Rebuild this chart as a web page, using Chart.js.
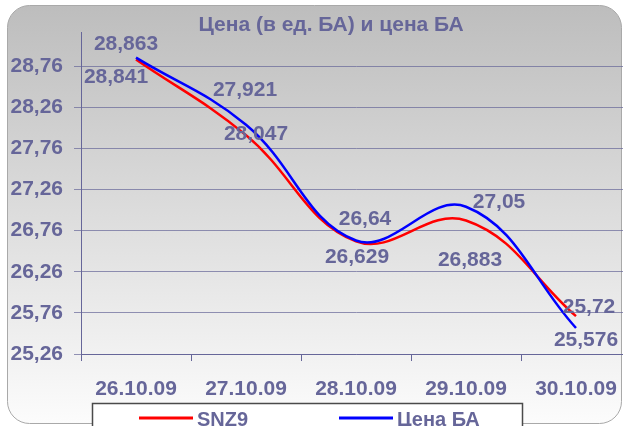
<!DOCTYPE html>
<html>
<head>
<meta charset="utf-8">
<script src="https://cdn.jsdelivr.net/npm/chart.js@4.4.1/dist/chart.umd.min.js"></script>
<style>
  html, body { margin: 0; padding: 0; overflow: hidden; background: #fff; width: 623px; height: 426px; }
  canvas { display: block; }
</style>
</head>
<body>
<canvas id="chart" width="640" height="426"></canvas>
<script>
const dates = ['26.10.09', '27.10.09', '28.10.09', '29.10.09', '30.10.09'];
const snz9 = [28.841, 27.921, 26.629, 26.883, 25.72];
const priceBA = [28.863, 28.047, 26.64, 27.05, 25.576];
const yTicks = [25.26, 25.76, 26.26, 26.76, 27.26, 27.76, 28.26, 28.76];
const chartTitle = 'Цена (в ед. БА) и цена БА';

const INK = '#666699';
const FONT = '"Liberation Sans", Arial, Helvetica, sans-serif';
const fmt = v => String(v).replace('.', ',');

// where each value label sits relative to its point (dx, dy)
const labelOffsets = [
  [[-20, 18], [-1, -45], [1, 16], [4, 40], [13, -9]],
  [[-10, -13], [10, 9], [9, -21], [33, -5], [10, 12]],
];

function roundedRect(ctx, x, y, w, h, r) {
  ctx.beginPath();
  ctx.moveTo(x + r, y);
  ctx.lineTo(x + w - r, y);
  ctx.arcTo(x + w, y, x + w, y + r, r);
  ctx.lineTo(x + w, y + h - r);
  ctx.arcTo(x + w, y + h, x + w - r, y + h, r);
  ctx.lineTo(x + r, y + h);
  ctx.arcTo(x, y + h, x, y + h - r, r);
  ctx.lineTo(x, y + r);
  ctx.arcTo(x, y, x + r, y, r);
  ctx.closePath();
}

const backdrop = {
  id: 'backdrop',
  beforeDraw(chart) {
    const ctx = chart.ctx;
    ctx.save();
    ctx.fillStyle = '#fff';
    ctx.fillRect(0, 0, chart.width, chart.height);
    const g = ctx.createLinearGradient(0, 5, 0, 424);
    g.addColorStop(0, '#bdbdbd');
    g.addColorStop(1, '#fcfcfc');
    roundedRect(ctx, 7.5, 5.5, 614, 418, 22);
    ctx.fillStyle = g;
    ctx.fill();
    ctx.strokeStyle = '#a9a9a9';
    ctx.lineWidth = 1;
    ctx.stroke();

    ctx.fillStyle = INK;
    ctx.font = `bold 21px ${FONT}`;
    ctx.textAlign = 'center';
    ctx.textBaseline = 'middle';
    ctx.fillText(chartTitle, 331, 25);
    ctx.restore();
  }
};

const valueLabels = {
  id: 'valueLabels',
  afterDatasetsDraw(chart) {
    const ctx = chart.ctx;
    ctx.save();
    ctx.fillStyle = INK;
    ctx.font = `bold 21px ${FONT}`;
    ctx.textAlign = 'center';
    ctx.textBaseline = 'middle';
    chart.data.datasets.forEach((ds, i) => {
      const meta = chart.getDatasetMeta(i);
      meta.data.forEach((pt, j) => {
        const [dx, dy] = labelOffsets[i][j];
        ctx.fillText(fmt(ds.data[j]), pt.x + dx, pt.y + dy);
      });
    });
    ctx.restore();
  }
};

const legendBox = {
  id: 'legendBox',
  afterDraw(chart) {
    const ctx = chart.ctx;
    ctx.save();
    ctx.fillStyle = '#fff';
    ctx.fillRect(92, 403, 430, 40);
    ctx.strokeStyle = '#4a4a4a';
    ctx.lineWidth = 1.5;
    ctx.strokeRect(92.5, 403.5, 430, 40);
    ctx.font = `bold 20px ${FONT}`;
    ctx.textBaseline = 'middle';
    ctx.textAlign = 'left';
    chart.data.datasets.forEach((ds, i) => {
      const x = 139 + i * 200;
      ctx.strokeStyle = ds.borderColor;
      ctx.lineWidth = 3;
      ctx.beginPath();
      ctx.moveTo(x, 418);
      ctx.lineTo(x + 54, 418);
      ctx.stroke();
      ctx.fillStyle = INK;
      ctx.fillText(ds.label, x + 58, 420);
    });
    ctx.restore();
  }
};

new Chart(document.getElementById('chart'), {
  type: 'line',
  data: {
    labels: dates,
    datasets: [
      { label: 'SNZ9', data: snz9, borderColor: '#ff0000', borderWidth: 2.5, pointRadius: 0, tension: 0.4, fill: false, order: 2 },
      { label: 'Цена БА', data: priceBA, borderColor: '#0000ff', borderWidth: 2.5, pointRadius: 0, tension: 0.4, fill: false, order: 1 },
    ]
  },
  options: {
    responsive: false,
    animation: false,
    devicePixelRatio: 1,
    layout: { padding: { top: 32, right: 9, left: 0, bottom: 0 } },
    plugins: { legend: { display: false }, title: { display: false }, tooltip: { enabled: false } },
    scales: {
      x: {
        type: 'category',
        offset: true,
        grid: { offset: true, drawOnChartArea: false, drawTicks: true, tickLength: 7, color: INK },
        border: { display: true, color: INK, width: 1 },
        ticks: { color: INK, font: { family: FONT, size: 21, weight: 'bold' }, padding: 16, maxRotation: 0, autoSkip: false },
        afterFit: s => { s.height = 72; }
      },
      y: {
        min: 25.26,
        max: 29.175,
        afterBuildTicks: s => { s.ticks = yTicks.map(v => ({ value: v })); },
        grid: { color: 'rgba(102,102,153,0.7)', lineWidth: 1, tickLength: 7 },
        border: { display: true, color: INK, width: 1 },
        ticks: {
          color: INK, font: { family: FONT, size: 21, weight: 'bold' }, padding: 11,
          callback: v => v.toFixed(2).replace('.', ',')
        },
        afterFit: s => { s.width = 81; }
      }
    }
  },
  plugins: [backdrop, valueLabels, legendBox]
});
</script>
</body>
</html>
